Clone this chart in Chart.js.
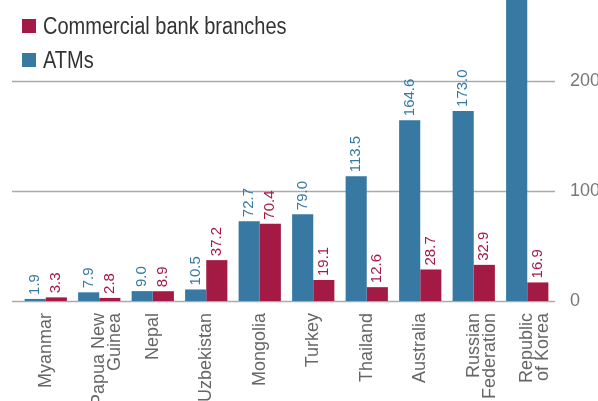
<!DOCTYPE html>
<html>
<head>
<meta charset="utf-8">
<script src="https://cdn.jsdelivr.net/npm/chart.js@4"></script>
<style>
 body { margin: 0; background: #fff; }
 #wrap { position: relative; width: 598px; height: 401px; overflow: hidden; }
 #legend { position: absolute; left: 22px; top: 9px; font-family: "Liberation Sans", sans-serif; font-size: 23px; color: #333; }
 .item { display: flex; align-items: center; height: 34px; }
 .box { width: 14px; height: 14px; margin-right: 7px; flex: none; }
 .txt { display: inline-block; transform: scaleX(0.87); transform-origin: left center; white-space: nowrap; }
</style>
</head>
<body>
<div id="wrap">
 <canvas id="chart" width="598" height="401"></canvas>
 <div id="legend"></div>
</div>
<script>
// values per 100,000 adults
const countries = [
 'Myanmar', ['Papua New', 'Guinea'], 'Nepal', 'Uzbekistan', 'Mongolia',
 'Turkey', 'Thailand', 'Australia', ['Russian', 'Federation'], ['Republic', 'of Korea']
];
const atms = [1.9, 7.9, 9.0, 10.5, 72.7, 79.0, 113.5, 164.6, 173.0, 280.0];
const branches = [3.3, 2.8, 8.9, 37.2, 70.4, 19.1, 12.6, 28.7, 32.9, 16.9];
const yTicks = [0, 100, 200];
const yMax = 274;

const BLUE = '#3779a2';
const RED = '#a31b44';

const ctx = document.getElementById('chart').getContext('2d');

// horizontal rules, drawn a bit further left than the plot area
const gridPlugin = {
 id: 'rules',
 beforeDatasetsDraw(chart) {
   const y = chart.scales.y;
   const c = chart.ctx;
   c.save();
   c.strokeStyle = '#aaaaaa';
   c.lineWidth = 1.5;
   yTicks.forEach(v => {
     const py = Math.round(y.getPixelForValue(v)) + 0.5;
     c.beginPath();
     c.moveTo(12, py);
     c.lineTo(chart.chartArea.right + 1, py);
     c.stroke();
   });
   c.restore();
 }
};

// rotated value labels above each bar
const valuePlugin = {
 id: 'values',
 afterDatasetsDraw(chart) {
   const c = chart.ctx;
   chart.data.datasets.forEach((ds, i) => {
     const meta = chart.getDatasetMeta(i);
     meta.data.forEach((bar, j) => {
       const v = ds.data[j];
       if (v > yMax) return;
       c.save();
       c.translate(bar.x, bar.y - 4);
       c.rotate(-Math.PI / 2);
       c.font = '15px "Liberation Sans", sans-serif';
       c.fillStyle = ds.backgroundColor;
       c.textAlign = 'left';
       c.textBaseline = 'middle';
       c.fillText(v.toFixed(1), 0, 0);
       c.restore();
     });
   });
 }
};

const chart = new Chart(ctx, {
 type: 'bar',
 data: {
   labels: countries,
   datasets: [
     { label: 'ATMs', data: atms, backgroundColor: BLUE },
     { label: 'Commercial bank branches', data: branches, backgroundColor: RED }
   ]
 },
 options: {
   responsive: false,
   devicePixelRatio: 1,
   animation: false,
   layout: { padding: { left: 19, top: 0, right: 0, bottom: 0 } },
   categoryPercentage: 0.79,
   barPercentage: 1,
   plugins: { legend: { display: false }, tooltip: { enabled: false } },
   scales: {
     x: {
       grid: { display: false },
       border: { display: false },
       afterFit: s => { s.height = 100; s.paddingLeft = 0; s.paddingRight = 0; },
       ticks: {
         autoSkip: false,
         maxRotation: 90,
         minRotation: 90,
         padding: 4,
         color: '#666',
         font: { family: '"Liberation Sans", sans-serif', size: 18, lineHeight: 0.9 }
       }
     },
     y: {
       position: 'right',
       min: 0,
       max: yMax,
       grid: { display: false },
       border: { display: false },
       afterFit: s => { s.width = 44; s.paddingTop = 0; s.paddingBottom = 0; },
       afterBuildTicks: s => { s.ticks = yTicks.map(v => ({ value: v })); },
       ticks: {
         padding: 8,
         color: '#777',
         font: { family: '"Liberation Sans", sans-serif', size: 18 }
       }
     }
   }
 },
 plugins: [gridPlugin, valuePlugin]
});

// legend: branches listed first
const legend = document.getElementById('legend');
[1, 0].forEach(i => {
 const ds = chart.data.datasets[i];
 const item = document.createElement('div');
 item.className = 'item';
 const box = document.createElement('span');
 box.className = 'box';
 box.style.background = ds.backgroundColor;
 const txt = document.createElement('span');
 txt.className = 'txt';
 txt.textContent = ds.label;
 item.appendChild(box);
 item.appendChild(txt);
 legend.appendChild(item);
});
</script>
</body>
</html>
